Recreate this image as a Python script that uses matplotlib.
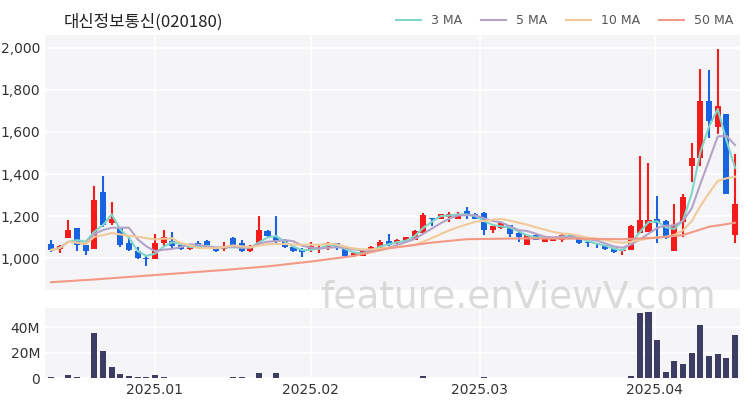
import matplotlib
matplotlib.use("Agg")
import matplotlib.pyplot as plt
import numpy as np
import pandas as pd

title = "대신정보통신(020180)"
opens  = [1070,1044,1095,1142,1064,1044,1314,1166,1150,1072,1037,1002,997,1072,1084,1064,1044,1075,1083,1050,
          1044,1095,1072,1033,1069,1131,1103,1084,1056,1044,1040,1044,1056,1072,1047,1009,1012,1028,1048,1084,
          1072,1080,1087,1122,1194,1189,1197,1189,1225,1212,1216,1134,1142,1158,1122,1064,1111,1080,1084,1087,
          1116,1100,1077,1072,1064,1048,1033,1041,1119,1127,1189,1178,1037,1173,1439,1478,1747,1622,1684,1111]
closes = [1040,1059,1137,1064,1037,1278,1158,1189,1064,1040,1000,995,1072,1100,1059,1044,1059,1059,1062,1034,
          1059,1064,1033,1059,1134,1106,1077,1056,1034,1028,1059,1056,1075,1047,1012,1025,1033,1056,1080,1064,
          1087,1100,1130,1205,1189,1209,1212,1205,1209,1189,1134,1153,1169,1116,1100,1111,1087,1100,1100,1112,
          1103,1072,1072,1067,1044,1028,1041,1153,1181,1181,1166,1095,1158,1291,1478,1747,1653,1725,1306,1256]
highs  = [1087,1064,1181,1142,1064,1345,1392,1267,1150,1103,1056,1009,1115,1134,1123,1066,1062,1082,1086,1056,
          1078,1103,1087,1062,1200,1134,1200,1090,1058,1047,1080,1064,1078,1075,1050,1027,1036,1060,1085,1115,
          1090,1103,1135,1216,1194,1212,1220,1220,1244,1215,1220,1155,1172,1160,1124,1112,1111,1102,1102,1115,
          1116,1100,1077,1072,1064,1048,1041,1158,1486,1455,1298,1181,1259,1306,1548,1900,1892,1994,1684,1494]
lows   = [1028,1025,1095,1037,1015,1044,1150,1158,1056,1037,997,962,997,1059,1048,1040,1040,1055,1058,1030,
          1037,1056,1028,1030,1064,1103,1072,1050,1030,1006,1028,1025,1040,1042,1008,1006,1010,1025,1045,1060,
          1068,1076,1085,1119,1153,1185,1173,1185,1189,1185,1111,1119,1140,1103,1080,1064,1085,1078,1082,1080,
          1101,1070,1056,1048,1042,1026,1016,1039,1119,1127,1072,1091,1037,1103,1361,1439,1572,1591,1306,1072]
volumes_m = [0.5,0.3,2,1,0.3,35,21,9,3,1.5,1,1,2.5,1,0.3,0.2,0.2,0.2,0.2,0.2,
             0.2,0.8,0.8,0.2,4,0.3,4,0.3,0.2,0.2,0.2,0.2,0.2,0.2,0.2,0.2,0.2,0.2,0.2,0.2,
             0.2,0.2,0.2,1.5,0.3,0.2,0.2,0.2,0.2,0.2,0.5,0.2,0.2,0.2,0.2,0.2,0.2,0.2,0.2,0.2,
             0.2,0.2,0.2,0.2,0.2,0.2,0.2,1.5,51,52,30,5,13,11,20,42,17,19,16,34]
ma50_idx = [0,5,10,15,20,25,30,35,39,44,48,55,62,66,70,73,76,79]
ma50_val = [887,900,915,930,945,962,985,1012,1048,1075,1091,1095,1093,1091,1098,1111,1150,1169]
tick_pos = [12,30,49.5,69.7]
tick_labels = ["2025.01","2025.02","2025.03","2025.04"]

fig = plt.figure(figsize=(7.5,4), dpi=100)
ax = fig.add_axes([0.06,0.275,0.927,0.6375])
axv = fig.add_axes([0.06,0.055,0.927,0.175])
bg = "#f5f5f7"
for a in (ax, axv):
    a.set_facecolor(bg)
    for s in a.spines.values(): s.set_visible(False)
    a.grid(True, color="white", lw=1.2)
    a.set_axisbelow(True)
    a.tick_params(length=0, labelsize=10, colors="#333333")

n = len(closes)
x = np.arange(n)
up, down = "#f31b1b", "#1a63e0"
for i in range(n):
    c = up if closes[i] >= opens[i] else down
    ax.vlines(x[i], lows[i], highs[i], color=c, lw=1.5, zorder=3)
    lo, hi = min(opens[i], closes[i]), max(opens[i], closes[i])
    ax.bar(x[i], max(hi-lo, 4), bottom=lo, width=0.7, color=c, zorder=4)

s = pd.Series(closes, dtype=float)
ax.plot(x, s.rolling(3, min_periods=1).mean(), color="#7fd6c8", lw=1.5, label="3 MA", zorder=5)
ax.plot(x, s.rolling(5, min_periods=1).mean(), color="#b3a3c9", lw=1.5, label="5 MA", zorder=5)
ax.plot(x, s.rolling(10, min_periods=1).mean(), color="#f2c998", lw=1.5, label="10 MA", zorder=5)
ax.plot(ma50_idx, ma50_val, color="#f39a86", lw=1.5, label="50 MA", zorder=5)

ax.set_xlim(-0.7, n-0.4)
ax.set_ylim(850, 2060)
ax.set_yticks([1000,1200,1400,1600,1800,2000])
ax.set_yticklabels(["1,000","1,200","1,400","1,600","1,800","2,000"])
ax.set_xticks(tick_pos); ax.set_xticklabels([])
leg = ax.legend(loc="lower right", bbox_to_anchor=(1.0,1.0), ncol=4, frameon=False, fontsize=9,
                handlelength=2, columnspacing=1.5, borderaxespad=0.2)
for t in leg.get_texts(): t.set_color("#555555")

axv.bar(x, volumes_m, width=0.7, color="#3d3d63")
axv.set_xlim(-0.7, n-0.4)
axv.set_ylim(0, 55)
axv.set_yticks([0,20,40]); axv.set_yticklabels(["0","20M","40M"])
axv.set_xticks(tick_pos); axv.set_xticklabels(tick_labels)

fig.text(0.085, 0.945, title, fontsize=12, family="Noto Sans CJK KR", color="#222222", va="center")
fig.text(0.69, 0.255, "feature.enViewV.com", fontsize=27, color="#cccccc", alpha=0.7,
         ha="center", va="center", zorder=0)
fig.savefig("out.png", dpi=100)
